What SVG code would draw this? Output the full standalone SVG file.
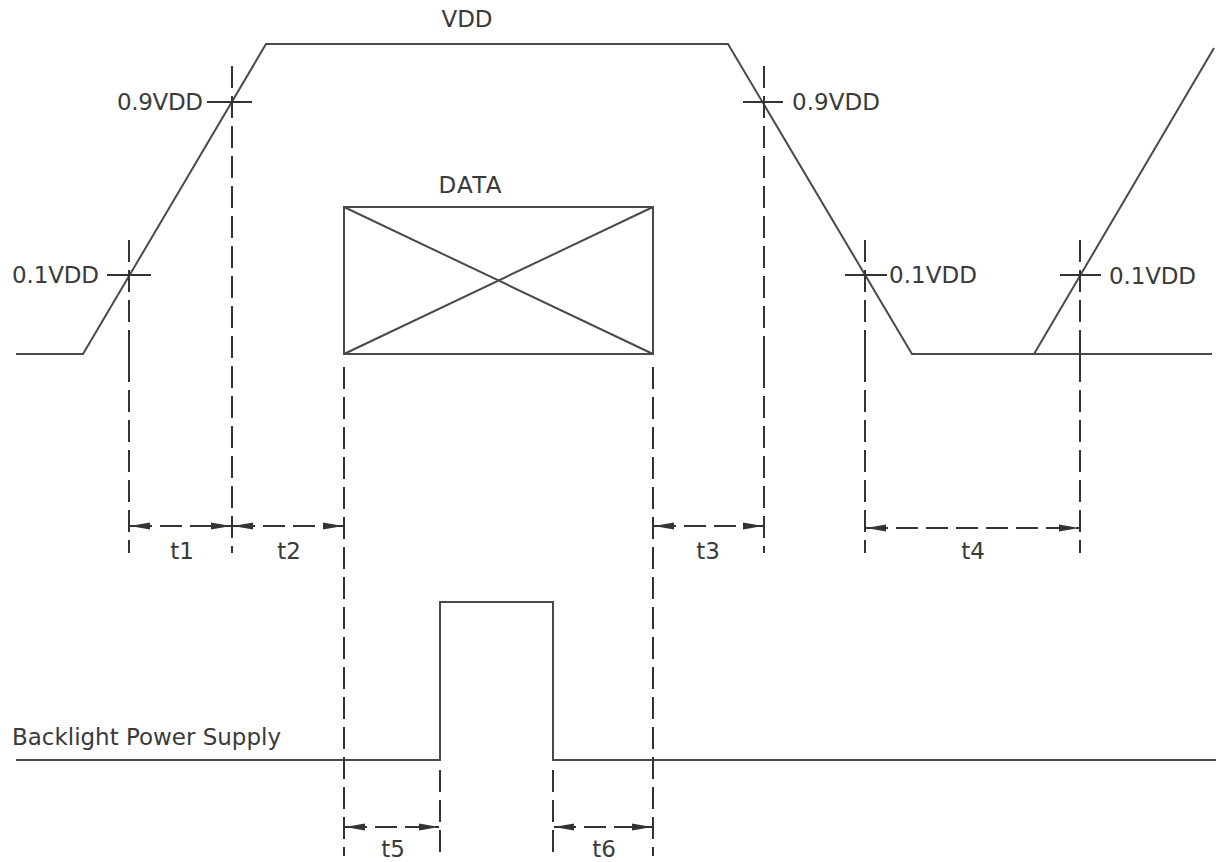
<svg xmlns="http://www.w3.org/2000/svg" width="1216" height="862" viewBox="0 0 1216 862">
<defs>
<marker id="ah" viewBox="0 0 20 10" refX="20" refY="5" markerWidth="20" markerHeight="10" markerUnits="userSpaceOnUse" orient="auto-start-reverse">
<path d="M0,1.5 L20,5 L0,8.5 Z" fill="#333"/>
</marker>
<style>
.w{fill:none;stroke:#4a4a4a;stroke-width:2}
.d{fill:none;stroke:#333;stroke-width:2;stroke-dasharray:22 8}
.t{fill:none;stroke:#333;stroke-width:2}
.a{fill:none;stroke:#333;stroke-width:2;stroke-dasharray:22 8;marker-start:url(#ah);marker-end:url(#ah)}
text{font-family:"DejaVu Sans","Liberation Sans",sans-serif;font-size:23px;fill:#3a3a3a}
</style>
</defs>
<rect width="1216" height="862" fill="#fff"/>
<g id="vdd-wave">
<polyline class="w" points="16,354 83,354 266,44 728,44 912,354 1034,354 1214,48"/>
<line class="w" x1="912" y1="354" x2="1212" y2="354"/>
<text x="467" y="27" text-anchor="middle" textLength="51">VDD</text>
</g>
<g id="data">
<rect class="w" x="344" y="207" width="309" height="147"/>
<line class="w" x1="344" y1="207" x2="653" y2="354"/>
<line class="w" x1="344" y1="354" x2="653" y2="207"/>
<text x="470" y="193" text-anchor="middle" textLength="63">DATA</text>
</g>
<g id="backlight">
<polyline class="w" points="16,760 440,760 440,602 553,602 553,760 1216,760"/>
<text x="12" y="745" textLength="269">Backlight Power Supply</text>
</g>
<g id="markers">
<line class="t" x1="207" y1="102" x2="252" y2="102"/>
<line class="t" x1="107" y1="275" x2="151" y2="275"/>
<line class="t" x1="743" y1="102" x2="783" y2="102"/>
<line class="t" x1="845" y1="275" x2="887" y2="275"/>
<line class="t" x1="1060" y1="275" x2="1101" y2="275"/>
<line class="t" x1="129" y1="340" x2="129" y2="373"/>
<line class="t" x1="764" y1="336" x2="764" y2="373"/>
<line class="t" x1="865" y1="336" x2="865" y2="373"/>
<line class="t" x1="1080" y1="336" x2="1080" y2="373"/>
<text x="203" y="110" text-anchor="end" textLength="86">0.9VDD</text>
<text x="99" y="283" text-anchor="end" textLength="87">0.1VDD</text>
<text x="792" y="110" textLength="88">0.9VDD</text>
<text x="889" y="283" textLength="88">0.1VDD</text>
<text x="1109" y="284" textLength="87">0.1VDD</text>
</g>
<g id="connectors">
<line class="d" x1="129" y1="240" x2="129" y2="553"/>
<line class="d" x1="232" y1="66" x2="232" y2="553"/>
<line class="d" x1="764" y1="66" x2="764" y2="553"/>
<line class="d" x1="865" y1="240" x2="865" y2="553"/>
<line class="d" x1="1080" y1="240" x2="1080" y2="553"/>
<line class="d" x1="344" y1="367" x2="344" y2="856"/>
<line class="d" x1="653" y1="367" x2="653" y2="856"/>
<line class="d" x1="440" y1="770" x2="440" y2="856"/>
<line class="d" x1="553" y1="770" x2="553" y2="856"/>
<line class="a" x1="130" y1="526" x2="231" y2="526"/>
<line class="a" x1="233" y1="526" x2="343" y2="526"/>
<line class="a" x1="654" y1="526" x2="763" y2="526"/>
<line class="a" x1="866" y1="528" x2="1079" y2="528"/>
<line class="a" x1="345" y1="827" x2="439" y2="827"/>
<line class="a" x1="554" y1="827" x2="652" y2="827"/>
</g>
<g id="labels">
<text x="182" y="559" text-anchor="middle">t1</text>
<text x="289" y="559" text-anchor="middle">t2</text>
<text x="708" y="559" text-anchor="middle">t3</text>
<text x="973" y="559" text-anchor="middle">t4</text>
<text x="393" y="857" text-anchor="middle">t5</text>
<text x="604" y="857" text-anchor="middle">t6</text>
</g>
</svg>
